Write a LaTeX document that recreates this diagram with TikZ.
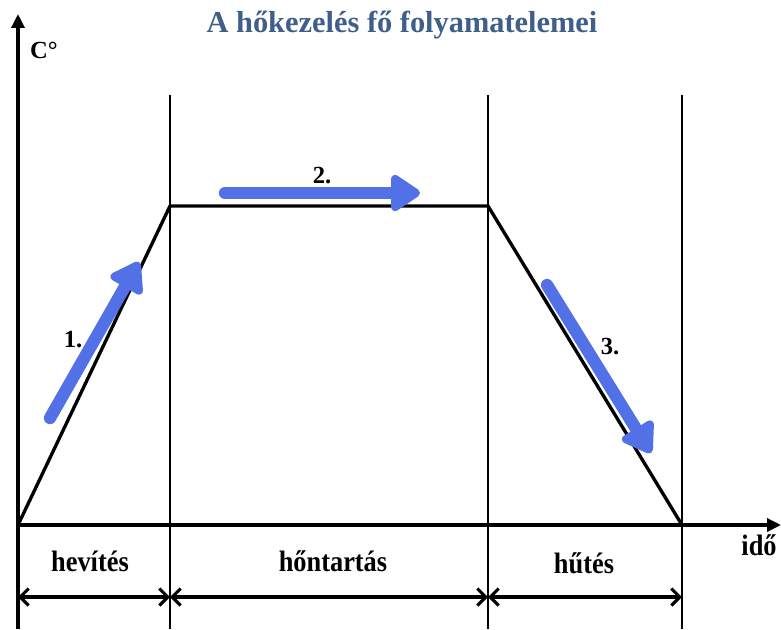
\documentclass[tikz,border=0pt]{standalone}
\usepackage{fontspec}
\setmainfont{Liberation Serif}
\usetikzlibrary{positioning,arrows.meta}
\definecolor{titleblue}{RGB}{63,95,138}
\definecolor{procblue}{RGB}{82,113,230}
\newcommand{\tallbf}[1]{\scalebox{1}[1.12]{#1}}

\begin{document}
\begin{tikzpicture}[x=0.02cm,y=-0.02cm,
  axis/.style={line width=1.9pt,-{Triangle[length=2.8mm,width=2.6mm]}},
  curve/.style={line width=1.9pt,line join=miter},
  divider/.style={line width=0.7pt},
  span/.style={line width=1.8pt,{Straight Barb[length=1.7mm,width=3.4mm]}-{Straight Barb[length=1.7mm,width=3.4mm]}},
  proc/.style={procblue,line width=7pt,line cap=round,-{Triangle[round,length=6.5mm,width=8.2mm]}},
  lbl/.style={font=\bfseries\fontsize{15}{17}\selectfont},
  num/.style={font=\bfseries\fontsize{14}{16}\selectfont}]
\useasboundingbox (0,0) rectangle (781,629);

% corners of the temperature curve
\coordinate (o) at (18,525);
\coordinate (p1) at (170,206);
\coordinate (p2) at (488,206);
\coordinate (p3) at (682,525);

% section borders
\foreach \x in {170,488,682}
  \draw[divider] (\x,95) -- (\x,629);

% axes
\coordinate (ybot) at (18,629);
\coordinate (ytop) at (18,14);
\coordinate (xend) at (781,525);
\draw[axis] (ybot) -- (ytop);
\draw[axis] (o) -- (xend);

% temperature curve
\draw[curve] (o) -- (p1) -- (p2) -- (p3);

% process arrows
\coordinate (a1s) at (50,418);
\coordinate (a1e) at (139,262);
\coordinate (a2s) at (225,193);
\coordinate (a2e) at (420,193);
\coordinate (a3s) at (547,285);
\coordinate (a3e) at (651,453);
\draw[proc] (a1s) -- (a1e);
\draw[proc] (a2s) -- (a2e);
\draw[proc] (a3s) -- (a3e);

\node[num] (n1) at (73,340) {1.};
\node[num] (n2) at (322,176) {2.};
\node[num] (n3) at (610,347) {3.};

% axis labels
\node[num] (cdeg) at (44,50) {C°};
\node[lbl] (ido) at (759,545) {\tallbf{idő}};

% title
\node[font=\bfseries\fontsize{17.3}{20}\selectfont,text=titleblue] (title) at (402,25) {A hőkezelés fő folyamatelemei};

% section names and spans
\coordinate (s0) at (18,597);
\coordinate (s1) at (170,597);
\coordinate (s2) at (488,597);
\coordinate (s3) at (682,597);
\node[lbl] (heat) at (90,561) {\tallbf{hevítés}};
\node[lbl] (hold) at (333,561) {\tallbf{hőntartás}};
\node[lbl] (cool) at (584,563) {\tallbf{hűtés}};
\draw[span] (s0) -- (s1);
\draw[span] (s1) -- (s2);
\draw[span] (s2) -- (s3);
\end{tikzpicture}
\end{document}
